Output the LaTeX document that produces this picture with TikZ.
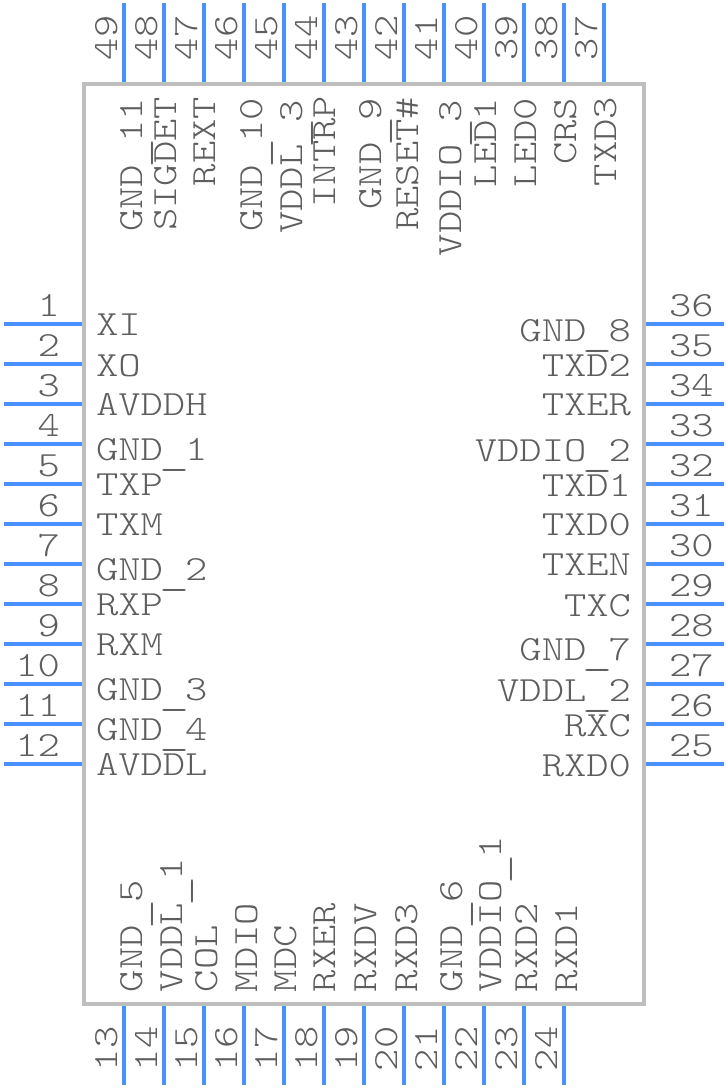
\documentclass[tikz,border=0pt]{standalone}
\usepackage{fontspec}
\setmainfont[FakeStretch=1.2]{Latin Modern Mono Light}
\definecolor{pinblue}{HTML}{4A90FF}
\definecolor{bodygrey}{HTML}{BEBEBE}
\definecolor{textgrey}{HTML}{5E5E5E}
\newcommand{\usc}{\makebox[22.3pt][c]{\raisebox{-4.9pt}{\scalebox{1.35}[1.1]{\_}}}}
\tikzset{
  pinline/.style={draw=pinblue,line width=4pt},
  chipbody/.style={draw=bodygrey,line width=4pt,fill=white},
  lbl/.style={inner sep=0pt,outer sep=0pt,text=textgrey,font=\fontsize{35.4}{36}\selectfont},
  numleft/.style={lbl,anchor=base east},
  numright/.style={lbl,anchor=base west},
  numup/.style={lbl,rotate=90,anchor=base west},
  lblw/.style={lbl,anchor=base west},
  lble/.style={lbl,anchor=base east},
  lblt/.style={lbl,rotate=90,anchor=base east},
  lblb/.style={lbl,rotate=90,anchor=base west}
}
\begin{document}
\begin{tikzpicture}[x=1pt,y=-1pt]
\useasboundingbox (0,0) rectangle (728,1088);
\draw[chipbody] (84,84) rectangle (644,1004);
% left pins 1..12, right pins 36..25
\foreach \n [evaluate=\n as \yy using {324+40*(\n-1)}, evaluate=\n as \rr using {int(37-\n)}] in {1,...,12}{
  \coordinate (pl\n a) at (4,\yy);
  \coordinate (pl\n b) at (82,\yy);
  \draw[pinline] (pl\n a) -- (pl\n b);
  \node[numleft] (nl\n) at (60,\yy-8) {\n};
  \coordinate (pr\n a) at (646,\yy);
  \coordinate (pr\n b) at (724,\yy);
  \draw[pinline] (pr\n a) -- (pr\n b);
  \node[numright] (nr\n) at (669,\yy-8) {\rr};
}
% bottom pins 13..24, top pins 49..37
\foreach \n [evaluate=\n as \xx using {124+40*(\n-13)}] in {13,...,24}{
  \coordinate (pb\n a) at (\xx,1006);
  \coordinate (pb\n b) at (\xx,1085);
  \draw[pinline] (pb\n a) -- (pb\n b);
  \node[numup] (nb\n) at (\xx-7,1071) {\n};
}
\foreach \n [evaluate=\n as \xx using {124+40*(49-\n)}] in {37,...,49}{
  \coordinate (pt\n a) at (\xx,3);
  \coordinate (pt\n b) at (\xx,82);
  \draw[pinline] (pt\n a) -- (pt\n b);
  \node[numup] (nt\n) at (\xx-7,60) {\n};
}
% left labels
\node[lblw] (l1) at (96,335) {XI};
\node[lblw] (l2) at (96,376) {XO};
\node[lblw] (l3) at (96,415) {AVDDH};
\node[lblw] (l4) at (96,460) {GND\usc1};
\node[lblw] (l5) at (96,495) {TXP};
\node[lblw] (l6) at (96,535) {TXM};
\node[lblw] (l7) at (96,580) {GND\usc2};
\node[lblw] (l8) at (96,615) {RXP};
\node[lblw] (l9) at (96,655) {RXM};
\node[lblw] (l10) at (96,700) {GND\usc3};
\node[lblw] (l11) at (96,740) {GND\usc4};
\node[lblw] (l12) at (96,775) {AVDDL};
% right labels
\node[lble] (r36) at (631,341) {GND\usc8};
\node[lble] (r35) at (631,376) {TXD2};
\node[lble] (r34) at (631,415) {TXER};
\node[lble] (r33) at (631,461) {VDDIO\usc2};
\node[lble] (r32) at (631,496) {TXD1};
\node[lble] (r31) at (631,535) {TXD0};
\node[lble] (r30) at (631,575) {TXEN};
\node[lble] (r29) at (631,616) {TXC};
\node[lble] (r28) at (631,660) {GND\usc7};
\node[lble] (r27) at (631,701) {VDDL\usc2};
\node[lble] (r26) at (631,736) {RXC};
\node[lble] (r25) at (631,776) {RXD0};
% top labels
\node[lblt] (t49) at (142,98) {GND\usc11};
\node[lblt] (t48) at (176,97) {SIGDET};
\node[lblt] (t47) at (215,97) {REXT};
\node[lblt] (t46) at (262,98) {GND\usc10};
\node[lblt] (t45) at (302,100) {VDDL\usc3};
\node[lblt] (t44) at (335,96) {INTRP};
\node[lblt] (t43) at (381,98) {GND\usc9};
\node[lblt] (t42) at (418,97) {RESET\#};
\node[lblt] (t41) at (461,100) {VDDIO\usc3};
\node[lblt] (t40) at (496,98) {LED1};
\node[lblt] (t39) at (536,98) {LED0};
\node[lblt] (t38) at (576,98) {CRS};
\node[lblt] (t37) at (616,97) {TXD3};
% bottom labels
\node[lblb] (b13) at (142,992) {GND\usc5};
\node[lblb] (b14) at (182,992) {VDDL\usc1};
\node[lblb] (b15) at (217,992) {COL};
\node[lblb] (b16) at (257,992) {MDIO};
\node[lblb] (b17) at (296,992) {MDC};
\node[lblb] (b18) at (335,992) {RXER};
\node[lblb] (b19) at (376,992) {RXDV};
\node[lblb] (b20) at (417,992) {RXD3};
\node[lblb] (b21) at (462,992) {GND\usc6};
\node[lblb] (b22) at (501,992) {VDDIO\usc1};
\node[lblb] (b23) at (537,992) {RXD2};
\node[lblb] (b24) at (577,992) {RXD1};
\end{tikzpicture}
\end{document}
